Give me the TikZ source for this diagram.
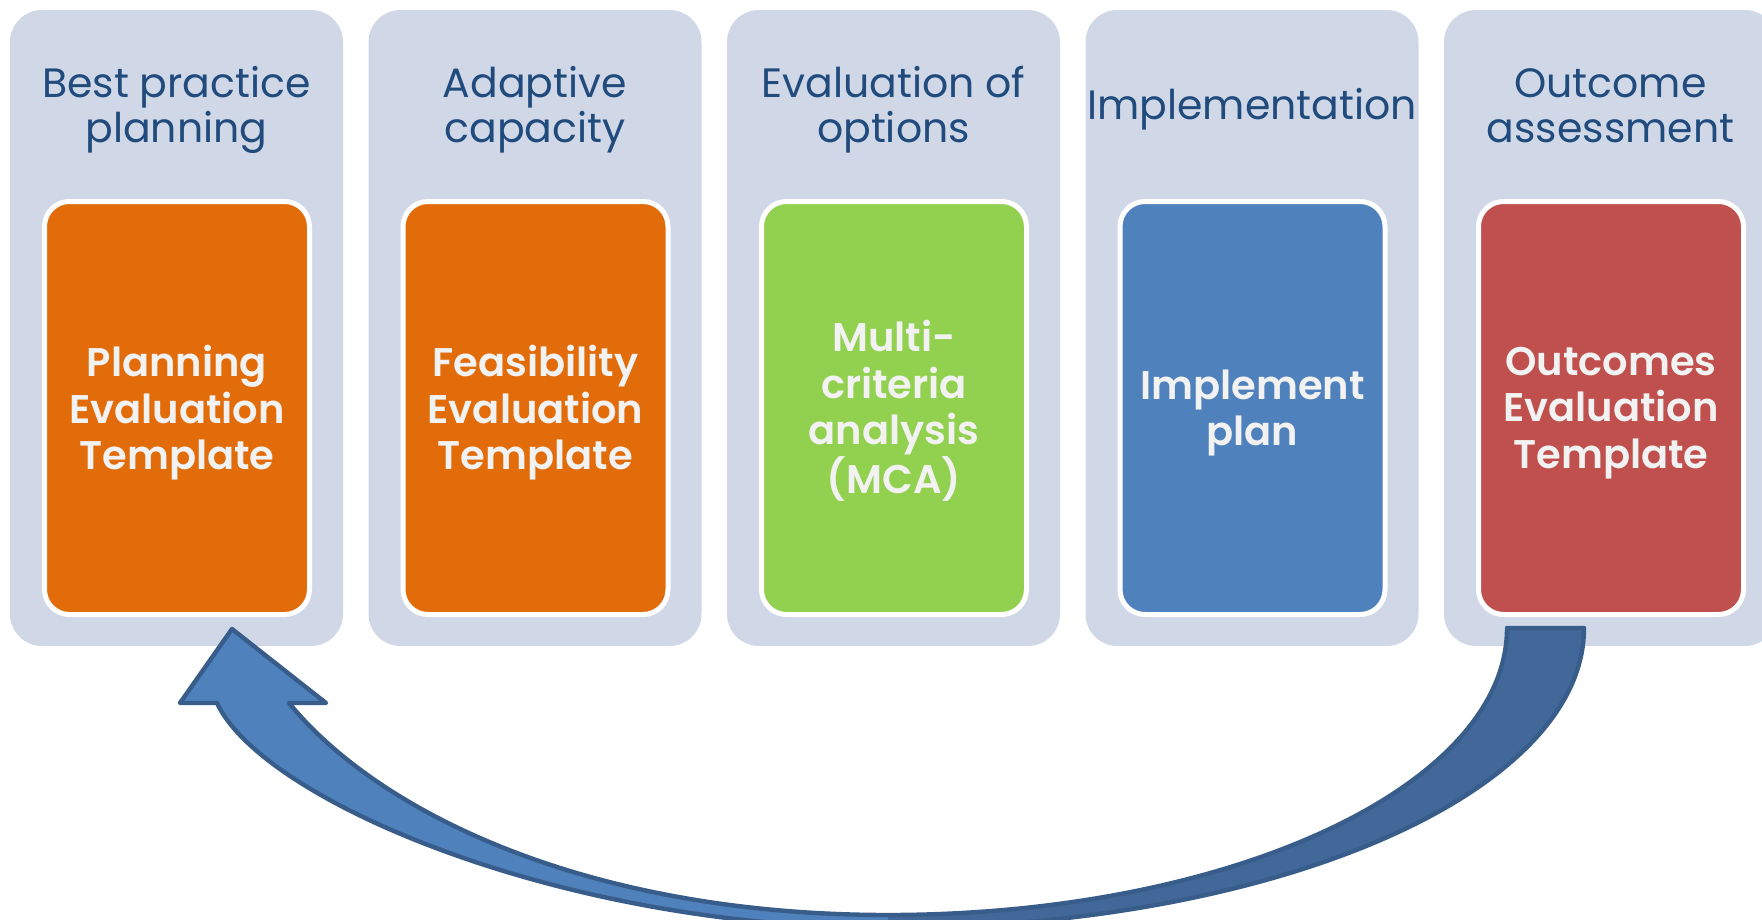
\documentclass[tikz,border=0pt]{standalone}
\usepackage{fontspec}
\setmainfont{Poppins}
\newfontfamily\cardfont{Poppins SemiBold}

\definecolor{panelgray}{RGB}{208,216,232}
\definecolor{titleblue}{RGB}{33,75,125}
\definecolor{cardorange}{RGB}{227,108,10}
\definecolor{cardgreen}{RGB}{146,208,80}
\definecolor{cardblue}{RGB}{79,129,189}
\definecolor{cardred}{RGB}{192,80,77}
\definecolor{cardwhite}{RGB}{242,242,242}
\definecolor{arrowlight}{RGB}{79,129,189}
\definecolor{arrowdark}{RGB}{65,104,153}
\definecolor{arrowline}{RGB}{56,93,138}

\begin{document}
\begin{tikzpicture}[x=0.5pt, y=-0.5pt,
	panel/.style={fill=panelgray, rounded corners=16pt, minimum width=166.5pt, minimum height=318pt, inner sep=0pt},
	title/.style={text=titleblue, align=center, inner sep=0pt, font=\fontsize{20.5}{22.5}\selectfont},
	card/.style={draw=white, line width=2.5pt, rounded corners=12.5pt, minimum width=132.5pt, minimum height=206.5pt, inner sep=0pt},
	cardtext/.style={text=cardwhite, align=center, inner sep=0pt, yshift=-2.5pt, font=\cardfont\fontsize{20}{23.25}\selectfont},
	arrowedge/.style={draw=arrowline, line width=2.2pt, line join=round}]

		\useasboundingbox (0,0) rectangle (1762,920);
		\clip (0,0) rectangle (1762,920);

		\node[panel] (planpanel) at (176.5,328) {};
		\node[panel] (adaptpanel) at (535,328) {};
		\node[panel] (optionpanel) at (893.5,328) {};
		\node[panel] (implpanel) at (1252,328) {};
		\node[panel] (outcomepanel) at (1610.5,328) {};

		\node[title] (plantitle) at (176.5,110) {Best practice\\planning};
		\node[title] (adapttitle) at (535,110) {Adaptive\\capacity};
		\node[title] (optiontitle) at (893.5,110) {Evaluation of\\options};
		\node[title] (impltitle) at (1252,109) {Implementation};
		\node[title] (outcometitle) at (1610.5,106) {Outcome\\assessment};

		\node[card, fill=cardorange] (planbox) at (177,408) {};
		\node[card, fill=cardorange] (adaptbox) at (535.5,408) {};
		\node[card, fill=cardgreen] (optionbox) at (894,408) {};
		\node[card, fill=cardblue] (implbox) at (1252.5,408) {};
		\node[card, fill=cardred] (outcomebox) at (1611,408) {};

		\node[cardtext] (plantext) at (planbox) {Planning\\Evaluation\\Template};
		\node[cardtext] (adapttext) at (adaptbox) {Feasibility\\Evaluation\\Template};
		\node[cardtext, yshift=1pt] (optiontext) at (optionbox) {Multi-\\criteria\\analysis\\(MCA)};
		\node[cardtext] (impltext) at (implbox) {Implement\\plan};
		\node[cardtext] (outcometext) at (outcomebox) {Outcomes\\Evaluation\\Template};

		% curved arrow back to the start
		\fill[arrowdark] (1507,628) -- (1584,628) .. controls (1584,794) and (1272,928) .. (888,928)
			-- (888,915) .. controls (1230,915) and (1507,786) .. (1507,628) -- cycle;
		\fill[arrowlight] (217,703) -- (180,703) -- (232,629) -- (326,703) -- (289,703)
			.. controls (379,813) and (588,915) .. (888,915) -- (888,928)
			.. controls (560,928) and (262,800) .. (217,703) -- cycle;
		\draw[arrowedge] (888,928) .. controls (1272,928) and (1584,794) .. (1584,628) -- (1507,628)
			.. controls (1507,786) and (1230,915) .. (888,915);
		\draw[arrowedge] (888,915) .. controls (588,915) and (379,813) .. (289,703) -- (326,703)
			-- (232,629) -- (180,703) -- (217,703) .. controls (262,800) and (560,928) .. (888,928);
	\end{tikzpicture}
\end{document}
